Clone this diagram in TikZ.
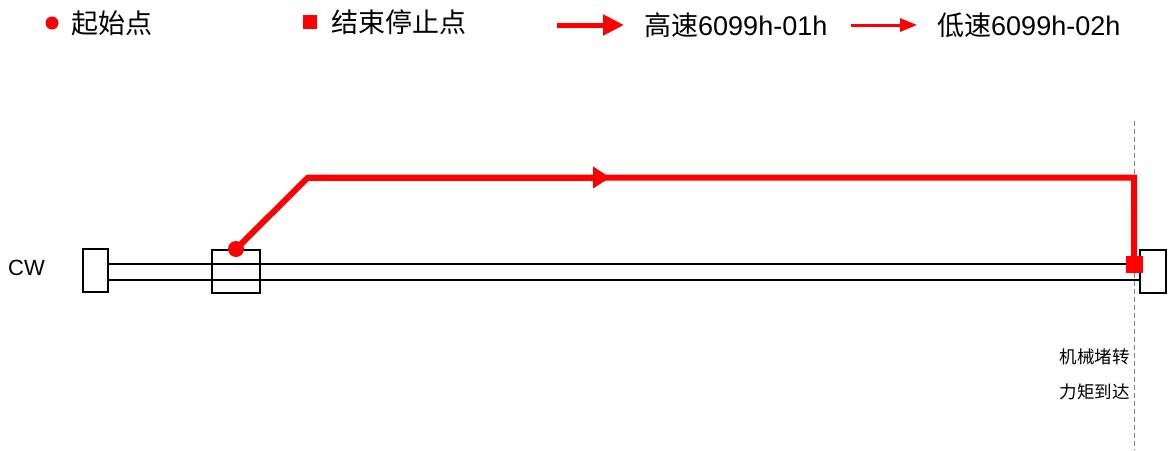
\documentclass[tikz,border=0pt]{standalone}
\usepackage{fontspec}
\setmainfont{Liberation Sans}
\newfontfamily\cjk{Noto Sans CJK SC}
\usetikzlibrary{arrows.meta, positioning}
\tikzstyle{startNode} = [circle, minimum size = 16pt, inner sep=0pt, fill=red]
\tikzstyle{endNode} = [rectangle, minimum size = 17pt, inner sep=0pt, fill=red]
\tikzstyle{stopBlock} = [rectangle, minimum width=25pt, minimum height=43pt, inner sep=0pt, draw=black, line width=2.5pt, fill=white]
\tikzstyle{slider} = [rectangle, minimum width=48pt, minimum height=43pt, inner sep=0pt, draw=black, line width=2.5pt]
\tikzstyle{rail} = [draw=black, line width=2.8pt]
\tikzstyle{fastPath} = [red, line width=6pt, line join=miter]
\tikzstyle{fastArrow} = [red, line width=5pt, -{Triangle[length=21pt, width=20pt]}]
\tikzstyle{slowArrow} = [red, line width=3pt, -{Triangle[length=17pt, width=13pt]}]
\tikzstyle{legendText} = [inner sep=0pt, font=\fontsize{27pt}{32pt}\selectfont]
\tikzstyle{noteText} = [inner sep=0pt, font=\fontsize{17.5pt}{21pt}\selectfont\cjk]

\begin{document}
\begin{tikzpicture}[x=1pt, y=-1pt]
\useasboundingbox (0,0) rectangle (1169,450);
% legend
\node (legStart) [startNode, minimum size = 13pt] at (52,23) {};
\node (legStartText) [legendText, right = 12.5pt of legStart] {\cjk 起始点};
\node (legEnd) [endNode, minimum size = 14pt] at (310,22) {};
\node (legEndText) [legendText, right = 14pt of legEnd] {\cjk 结束停止点};
\coordinate (legFastA) at (557,25);
\coordinate (legFastB) at (624,25);
\draw [fastArrow] (legFastA) -- (legFastB);
\node (legFastText) [legendText, right = 20pt of legFastB] {{\cjk 高速}6099h-01h};
\coordinate (legSlowA) at (851,25);
\coordinate (legSlowB) at (917,25);
\draw [slowArrow] (legSlowA) -- (legSlowB);
\node (legSlowText) [legendText, right = 20pt of legSlowB] {{\cjk 低速}6099h-02h};
% axis
\coordinate (dashTop) at (1134.5,121);
\coordinate (dashBottom) at (1134.5,450);
\draw [gray, line width=1pt, dash pattern=on 5pt off 3pt] (dashTop) -- (dashBottom);
\node (leftBlock) [stopBlock] at (95.5,270.5) {};
\node (rightBlock) [stopBlock, minimum width=26pt] at (1153,271.5) {};
\draw [rail] (leftBlock.east |- 0,264) -- (rightBlock.west |- 0,264);
\draw [rail] (leftBlock.east |- 0,280) -- (rightBlock.west |- 0,280);
\node (carriage) [slider] at (236,271.5) {};
\node (cw) [inner sep=0pt, font=\fontsize{22pt}{26pt}\selectfont, anchor=west] at (8,268) {CW};
% motion
\node (start) [startNode] at (236,249) {};
\node (stop) [endNode] at (1134,264.5) {};
\coordinate (bendA) at (308,177.5);
\coordinate (arrowTip) at (610,177.5);
\draw [fastPath] (start.center) -- (bendA) -- (stop.center |- bendA) -- (stop.center);
\draw [red, line width=6pt, -{Triangle[length=17pt, width=21pt]}] (bendA) -- (arrowTip);
\node [endNode] at (stop) {};
\node (note1) [noteText, anchor=east] at (1130,357) {机械堵转};
\node (note2) [noteText, anchor=east] at (1130,392) {力矩到达};
\end{tikzpicture}
\end{document}
